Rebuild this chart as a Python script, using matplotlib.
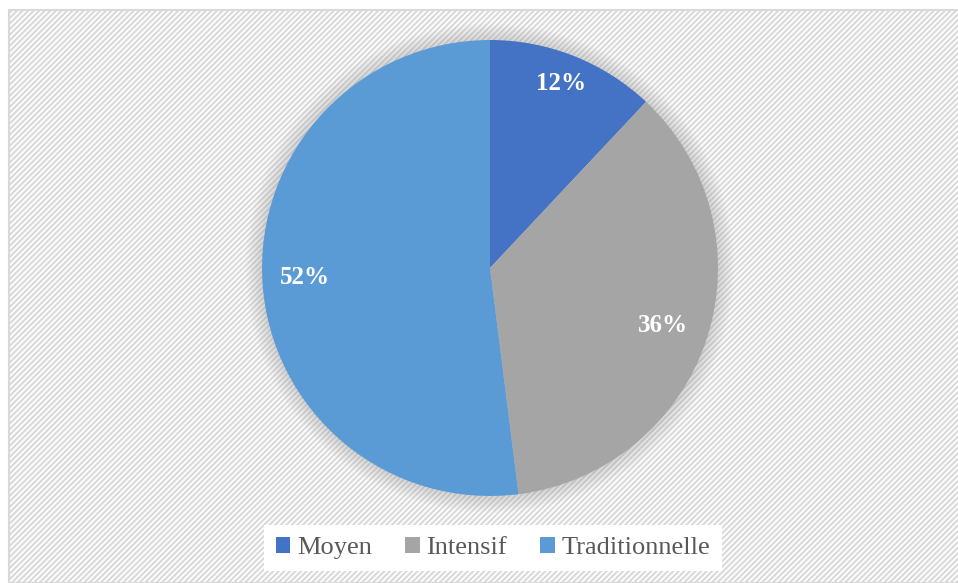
import matplotlib.pyplot as plt
from matplotlib.patches import Rectangle, Circle, Patch

labels = ['Moyen', 'Intensif', 'Traditionnelle']
values = [12, 36, 52]
colors = ['#4472C4', '#A5A5A5', '#5B9BD5']

plt.rcParams['font.family'] = ['Liberation Serif', 'DejaVu Serif']
plt.rcParams['hatch.color'] = '#f6f6f6'
plt.rcParams['hatch.linewidth'] = 1.5

fig = plt.figure(figsize=(9.58, 5.83), dpi=100)
W, H = 958, 583

# hatched chart area with light border
bg = Rectangle((9 / W, 0), 1.0, 1 - 10 / H, transform=fig.transFigure,
               facecolor='white', edgecolor='#d9d9d9', linewidth=1.5,
               hatch='//////', zorder=-5)
fig.patches.append(bg)

cx, cy, r = 490, 268, 228
ax = fig.add_axes([(cx - r) / W, 1 - (cy + r) / H, 2 * r / W, 2 * r / H])
ax.set_zorder(2)
ax.axis('off')

# soft shadow around the pie
for i in range(12):
    ax.add_patch(Circle((0, 0), 1.0 + 0.006 * (12 - i), color='#9a9a9a',
                        alpha=0.03, linewidth=0, zorder=1, clip_on=False))

wedges, texts, autotexts = ax.pie(
    values, colors=colors, startangle=90, counterclock=False,
    autopct='%d%%', pctdistance=0.81, radius=1.0,
    wedgeprops=dict(linewidth=0),
    textprops=dict(color='white', fontsize=18, fontweight='bold'))
for w in wedges:
    w.set_zorder(2)
for t in autotexts:
    t.set_zorder(3)
autotexts[0].set_position((0.31, 0.81))
autotexts[1].set_position((0.76, -0.25))
autotexts[2].set_position((-0.81, -0.04))
ax.set_xlim(-1, 1)
ax.set_ylim(-1, 1)
ax.set_aspect('auto')

handles = [Patch(facecolor=c, edgecolor='none') for c in colors]
leg = fig.legend(handles, labels, loc='center', bbox_to_anchor=(493 / W, 1 - 548 / H),
                 ncol=3, frameon=True, fancybox=False, fontsize=19,
                 handlelength=0.55, handleheight=0.55, handletextpad=0.25,
                 columnspacing=1.27, borderpad=0.45, labelcolor='#595959')
leg.get_frame().set_facecolor('white')
leg.get_frame().set_edgecolor('none')
leg.get_frame().set_alpha(1)
leg.set_zorder(5)

fig.savefig('out.png', dpi=100)
